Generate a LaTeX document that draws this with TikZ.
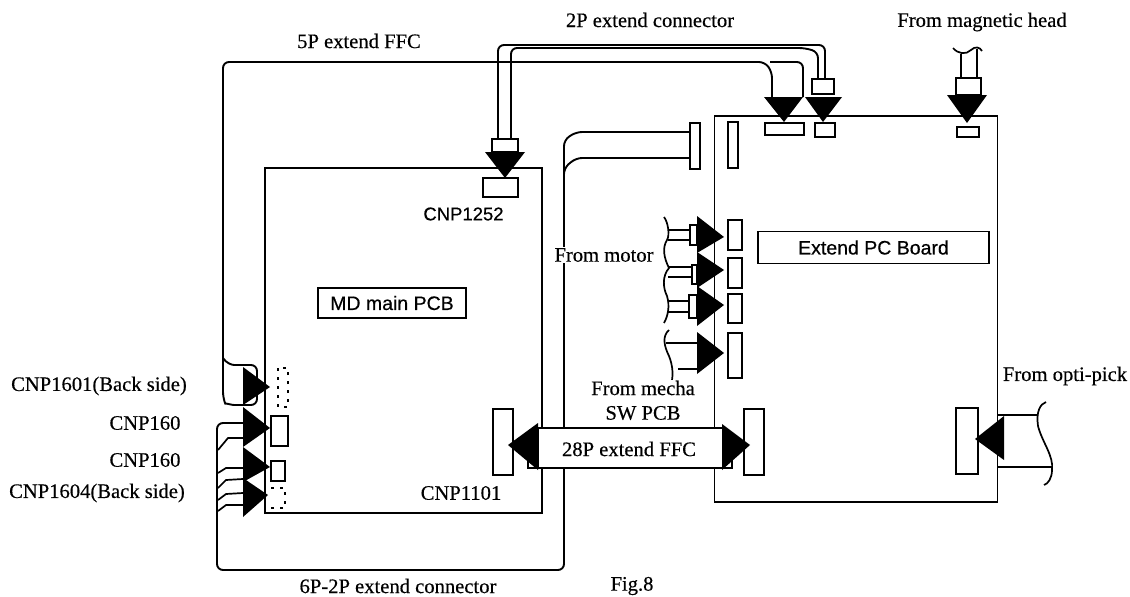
\documentclass[tikz,border=0pt]{standalone}
\usepackage{fontspec}
\setmainfont{Liberation Serif}
\newfontfamily\serfam[FakeBold=0.4]{Liberation Serif}
\newfontfamily\sansfam[FakeBold=0.5]{Liberation Sans}
\tikzset{
  boxn/.style={draw=black,fill=white,line width=1.9pt,inner sep=0pt,outer sep=0pt},
  wire/.style={draw=black,line width=1.9pt,rounded corners=6pt},
  thin wire/.style={draw=black,line width=1.7pt},
  wavy/.style={draw=black,line width=1.7pt},
  lab/.style={font=\serfam\fontsize{20.6}{22}\selectfont,inner sep=0pt,text=black},
  labw/.style={lab,fill=white,inner xsep=1pt,inner ysep=1pt},
  slab/.style={font=\sansfam\fontsize{19.5}{21}\selectfont,inner sep=0pt,text=black},
  dot box/.style={draw=black,line width=2.2pt,dash pattern=on 3pt off 6pt},
}
\newcommand{\bx}[5]{%
  \pgfmathsetmacro{\bw}{#4-#2}\pgfmathsetmacro{\bh}{#5-#3}%
  \pgfmathsetmacro{\cx}{(#4+#2)/2}\pgfmathsetmacro{\cy}{(#5+#3)/2}%
  \node[boxn,minimum width=\bw pt,minimum height=\bh pt] (#1) at (\cx,\cy) {};}
\newcommand{\tri}[3]{\fill[black] (#1) -- (#2) -- (#3) -- cycle;}
\begin{document}
\begin{tikzpicture}[x=1pt,y=-1pt]
\useasboundingbox (0,0) rectangle (1130,597);
% boards
\node[boxn,fill=none,minimum width=277pt,minimum height=345pt] (md) at (403.5,340.5) {};
\node[boxn,fill=none,minimum width=283pt,minimum height=386pt] (ext) at (856,309) {};
% connector blocks
\bx{b2pl}{492}{139}{518}{152}
\bx{b2pr}{812}{79}{834}{94}
\bx{bmag}{956}{78}{981}{95}
\bx{cmsw}{690}{123}{700}{169}
\bx{bm1}{690}{225}{697}{245}
\bx{bm2}{692}{265}{697}{284}
\bx{bm3}{689}{295}{697}{318}
% named wire ends
\coordinate (ffcA) at (772,97);
\coordinate (ffcB) at (803,97);
\coordinate (ffcBlk) at (257,365);
\coordinate (ffcBlk2) at (257,405);
\coordinate (loopT) at (243,423);
% 2P extend connector
\draw[wire] (b2pl.north west) ++(6,0) -- (498,45) -- (825,45) -- (825,79);
\draw[wire] (b2pl.north east) ++(-7,0) -- (511,48) -- (805,48) -- (818,52) -- (818,79);
% 5P extend FFC
\draw[wire] (ffcA) -- (772,72) -- (765,62) -- (223,62) -- (223,398) .. controls (225,403) and (232,405) .. (240,405) -- (ffcBlk2) -- (ffcBlk) -- (240,365) .. controls (232,365) and (226,363) .. (223,358);
\draw[wire] (ffcB) -- (803,62) -- (770,62);
% 6P-2P extend connector
\draw[wire] (loopT) -- (217,423) -- (217,570) -- (564,570) -- (564,140) -- (576,132) -- (cmsw.west |- 0,132);
\draw[wire] (564,172) -- (564,168) -- (576,158) -- (cmsw.west |- 0,158);
\draw[thin wire] (243,438) -- (228,438) -- (218,450);
\draw[thin wire] (243,468) -- (226,468) -- (218,473);
\draw[thin wire] (243,479) -- (226,480) -- (218,488);
\draw[thin wire] (243,493) -- (226,494) -- (218,500);
\draw[thin wire] (243,505) -- (226,505) -- (218,511);
% magnetic head
\draw[thin wire] (bmag.north west) ++(5,0) -- (961,54);
\draw[thin wire] (bmag.north east) ++(-4,0) -- (977,49);
\draw[wavy] (953,48) .. controls (958,54) and (966,55) .. (971,50) .. controls (975,46) and (980,47) .. (982,51);
% motor wires
\draw[thin wire] (668,230) -- (bm1.west |- 0,230);
\draw[thin wire] (668,240) -- (bm1.west |- 0,240);
\draw[thin wire] (668,267) -- (bm2.west |- 0,267);
\draw[thin wire] (668,277) -- (bm2.west |- 0,277);
\draw[thin wire] (668,301) -- (bm3.west |- 0,301);
\draw[thin wire] (668,312) -- (bm3.west |- 0,312);
\draw[thin wire] (666,343) -- (697,343);
\draw[thin wire] (678,369) -- (697,369);
\draw[wavy] (664,217) .. controls (668,222) and (670,235) .. (667,240) .. controls (662,248) and (664,258) .. (669,268) .. controls (662,276) and (663,288) .. (667,296) .. controls (670,306) and (668,316) .. (664,323);
\draw[wavy] (669,330) .. controls (662,336) and (664,346) .. (669,356) .. controls (673,366) and (674,378) .. (670,386);
% opti-pick
\draw[thin wire] (ext.east |- 0,415) -- (1037,415);
\draw[thin wire] (ext.east |- 0,467) -- (1052,467);
\draw[wavy] (1046,402) .. controls (1040,404) and (1036,412) .. (1038,426) .. controls (1042,442) and (1054,456) .. (1052,470) .. controls (1052,478) and (1048,484) .. (1044,485);
% dotted hidden connectors
\draw[dot box] (278,368) rectangle (288,407);
\draw[dot box] (271,488) -- (285,488) -- (285,508) -- (271,508);
% target boxes
\bx{cnpb}{483}{178}{518}{197}
\bx{t5p}{765}{123}{804}{135}
\bx{t2p}{815}{123}{835}{137}
\bx{tmag}{957}{127}{979}{137}
\bx{tsw}{728}{122}{738}{168}
\bx{tm1}{728}{220}{742}{250}
\bx{tm2}{728}{258}{742}{288}
\bx{tm3}{728}{294}{742}{323}
\bx{tm4}{728}{333}{742}{378}
\bx{topt}{956}{408}{978}{474}
\bx{cl1}{271}{416}{288}{446}
\bx{cl2}{271}{461}{285}{481}
% 28P FFC
\bx{ffcback}{528}{440}{732}{468}
\bx{ffc}{538}{428}{723}{468}
\bx{t28l}{493}{409}{513}{475}
\bx{t28r}{744}{409}{764}{475}
% arrowheads
\tri{485,152}{525,152}{505,178}
\tri{764,97}{803,97}{784,122}
\tri{805,97}{842,97}{823,122}
\tri{947,95}{987,95}{967,123}
\tri{697,216}{697,253}{724,237}
\tri{697,252}{697,288}{724,270}
\tri{697,286}{697,326}{724,305}
\tri{697,332}{697,374}{724,353}
\tri{538,423}{538,470}{508,445}
\tri{722,424}{722,470}{750,445}
\tri{1004,416}{1004,460}{975,439}
\tri{243,367}{243,405}{270,387}
\tri{243,407}{243,447}{270,428}
\tri{243,447}{243,482}{270,467}
\tri{243,478}{243,517}{268,495}
% labels
\node[boxn,minimum width=148pt,minimum height=30pt,slab] (mdl) at (392,303) {MD main PCB};
\node[boxn,minimum width=231pt,minimum height=32pt,slab] (exl) at (873.5,247.5) {Extend PC Board};
\node[slab,font=\sansfam\fontsize{18.5}{20}\selectfont] (l1252) at (463.5,214) {CNP1252};
\node[lab] (l1101) at (461,493) {CNP1101};
\node[lab] (l28) at (629,449) {28P extend FFC};
\node[labw] (lmot) at (604,255) {From motor};
\node[labw] (lme1) at (643,388) {From mecha};
\node[labw] (lme2) at (643,413) {SW PCB};
\node[lab] (l5p) at (359,41) {5P extend FFC};
\node[lab] (l2p) at (650,20) {2P extend connector};
\node[lab] (lmh) at (982,22) {From magnetic head};
\node[lab] (lop) at (1065,376) {From opti-pick};
\node[lab] (l6p) at (398,586) {6P-2P extend connector};
\node[lab] (lfig) at (632,586) {Fig.8};
\node[lab] (la) at (99,386) {CNP1601(Back side)};
\node[lab] (lb) at (145,423) {CNP160};
\node[lab] (lc) at (145,460) {CNP160};
\node[lab] (ld) at (97,493) {CNP1604(Back side)};
\end{tikzpicture}
\end{document}
